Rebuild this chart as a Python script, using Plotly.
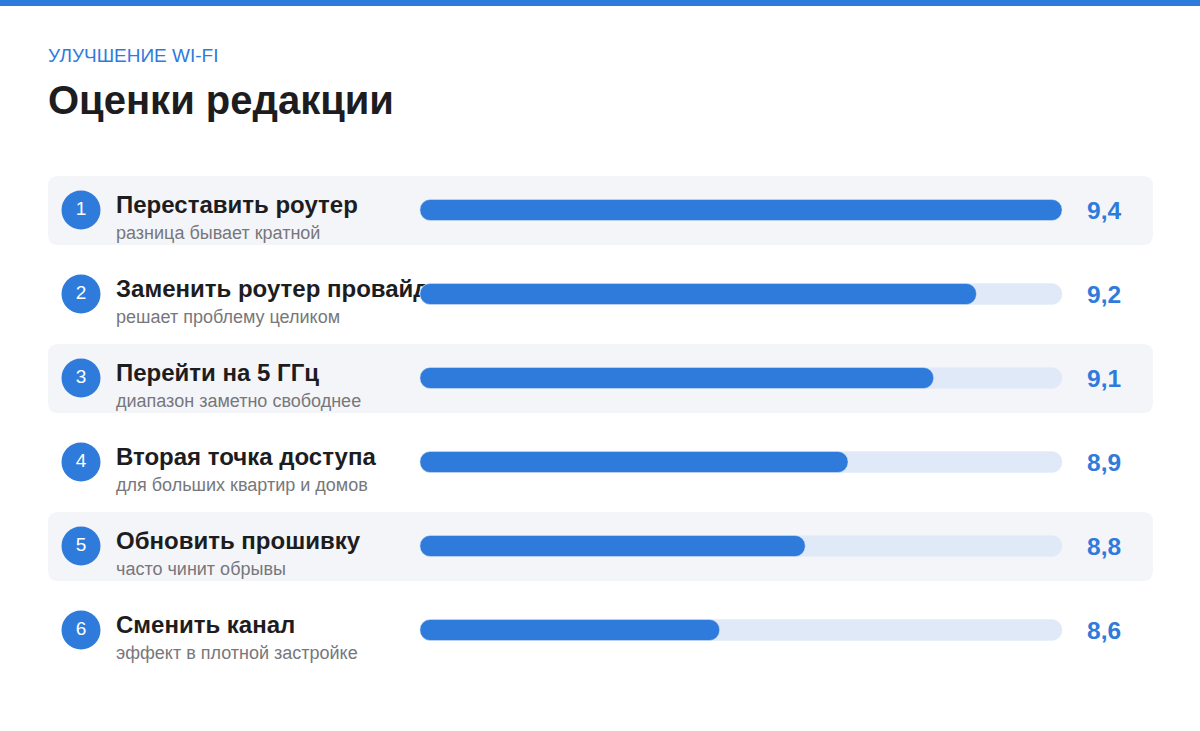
import plotly.graph_objects as go

ranks = ["1", "2", "3", "4", "5", "6"]
titles = ["Переставить роутер", "Заменить роутер провайдера", "Перейти на 5 ГГц",
          "Вторая точка доступа", "Обновить прошивку", "Сменить канал"]
subtitles = ["разница бывает кратной", "решает проблему целиком", "диапазон заметно свободнее",
             "для больших квартир и домов", "часто чинит обрывы", "эффект в плотной застройке"]
scores = [9.4, 9.2, 9.1, 8.9, 8.8, 8.6]
score_labels = ["9,4", "9,2", "9,1", "8,9", "8,8", "8,6"]

W, H = 1200, 731
BLUE = "#2f7bdc"
rows_y = [210 + 84 * i for i in range(len(scores))]
base = 7.9
ppu = 642 / (9.4 - base)
x2min = base - 420 / ppu
x2max = x2min + W / ppu
font = "Liberation Sans, Arial, sans-serif"

fig = go.Figure()
fig.add_trace(go.Scatter(x=[81] * 6, y=rows_y, mode="markers+text", text=ranks,
                         marker=dict(size=39, color=BLUE), textfont=dict(color="white", size=19, family=font),
                         xaxis="x", yaxis="y", hoverinfo="skip"))
fig.add_trace(go.Scatter(x=[116] * 6, y=[y - 3 for y in rows_y], mode="text", text=titles,
                         textposition="middle right", textfont=dict(size=24, color="#1d1d1f", family=font, weight="bold"),
                         xaxis="x", yaxis="y", hoverinfo="skip"))
fig.add_trace(go.Scatter(x=[116] * 6, y=[y + 24 for y in rows_y], mode="text", text=subtitles,
                         textposition="middle right", textfont=dict(size=18, color="#77777c", family=font),
                         xaxis="x", yaxis="y", hoverinfo="skip"))
fig.add_trace(go.Bar(x=[max(scores) - base] * 6, base=base, y=rows_y, orientation="h", width=21,
                     marker=dict(color="#dfe9f7", cornerradius=10), xaxis="x2", yaxis="y", hoverinfo="skip"))
fig.add_trace(go.Bar(x=[s - base for s in scores], base=base, y=rows_y, orientation="h", width=21,
                     marker=dict(color=BLUE, cornerradius=10), xaxis="x2", yaxis="y", hoverinfo="skip"))

shapes = [dict(type="rect", xref="paper", yref="paper", x0=0, x1=1, y0=1 - 6 / H, y1=1,
               fillcolor=BLUE, line_width=0)]
for i, y in enumerate(rows_y):
    if i % 2 == 0:
        x0, x1, y0, y1, r = 48, 1153, y - 34, y + 35, 10
        path = (f"M {x0+r},{y0} L {x1-r},{y0} Q {x1},{y0} {x1},{y0+r} L {x1},{y1-r} Q {x1},{y1} {x1-r},{y1} "
                f"L {x0+r},{y1} Q {x0},{y1} {x0},{y1-r} L {x0},{y0+r} Q {x0},{y0} {x0+r},{y0} Z")
        shapes.append(dict(type="path", xref="x", yref="y", path=path, fillcolor="#f4f5f8",
                           line_width=0, layer="below"))

annotations = [
    dict(x=46, y=55, xref="x", yref="y", text="УЛУЧШЕНИЕ WI-FI", showarrow=False, xanchor="left",
         font=dict(size=19, color=BLUE, family=font)),
    dict(x=46, y=100, xref="x", yref="y", text="<b>Оценки редакции</b>", showarrow=False, xanchor="left",
         font=dict(size=40, color="#1d1d1f", family=font)),
]
for y, lab in zip(rows_y, score_labels):
    annotations.append(dict(x=1104, y=y, xref="x", yref="y", text=f"<b>{lab}</b>", showarrow=False,
                            font=dict(size=24.5, color=BLUE, family=font)))

fig.update_layout(
    width=W, height=H, margin=dict(l=0, r=0, t=0, b=0), showlegend=False,
    plot_bgcolor="white", paper_bgcolor="white", barmode="overlay",
    xaxis=dict(range=[0, W], domain=[0, 1], visible=False, fixedrange=True),
    xaxis2=dict(range=[x2min, x2max], overlaying="x", visible=False, fixedrange=True),
    yaxis=dict(range=[H, 0], domain=[0, 1], visible=False, fixedrange=True),
    shapes=shapes, annotations=annotations,
)
fig.write_html("out.html", config={"displayModeBar": False},
               post_script="document.body.style.margin='0';")
